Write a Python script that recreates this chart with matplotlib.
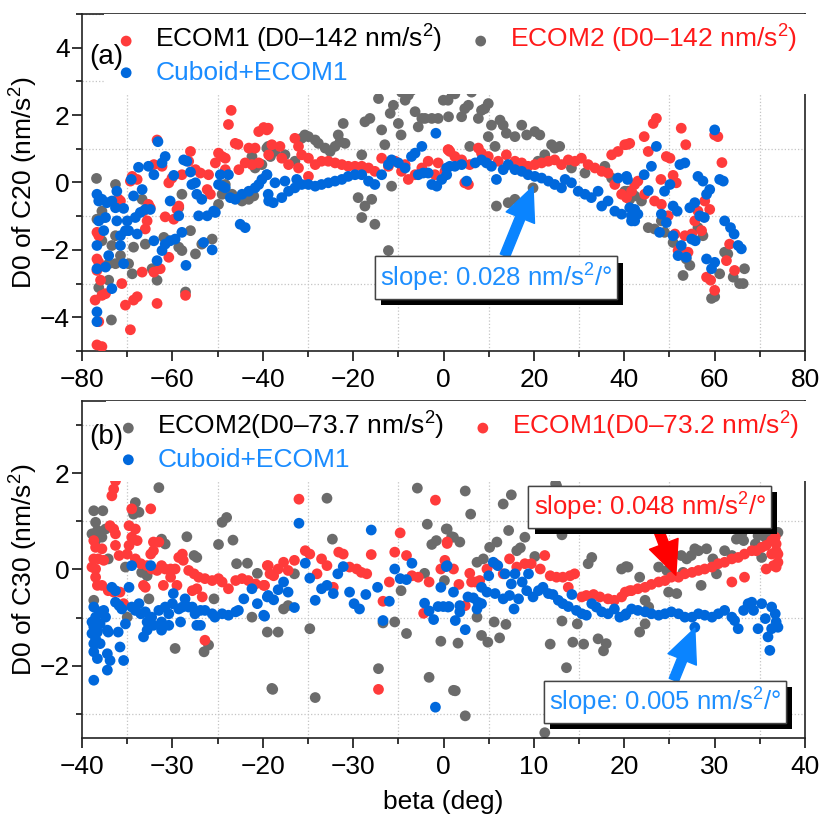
import numpy as np
import matplotlib
matplotlib.use("Agg")
import matplotlib.pyplot as plt
from matplotlib import patheffects
from matplotlib.ticker import MultipleLocator, FixedLocator

plt.rcParams['font.family'] = ['Liberation Sans', 'DejaVu Sans']
plt.rcParams['mathtext.fontset'] = 'custom'
plt.rcParams['mathtext.rm'] = 'Liberation Sans'
plt.rcParams['mathtext.it'] = 'Liberation Sans:italic'

# ---- panel (a): C20, (beta, D0) pairs ----
a_ecom2 = [  # grey
    (-76.8, 0.12), (-76.7, -1.09), (-75.2, -1.04), (-75.6, -1.73), (-73.4, -1.87), (-72.6, -1.58),
    (-74.1, -2.41), (-72.6, -2.41), (-71.5, -2.17), (-74.1, -2.90), (-69.7, -2.41), (-68.9, -2.71),
    (-68.6, -1.92), (-66.0, -1.83), (-66.7, -0.50), (-63.4, -2.90), (-64.5, -2.56), (-61.9, -1.63),
    (-60.8, -1.73), (-57.9, -2.02), (-58.6, -1.92), (-57.9, -0.35), (-58.6, -0.75), (-56.0, -1.43),
    (-54.9, -2.12), (-53.5, -1.83), (-51.2, -1.68), (-57.1, -3.25), (-49.8, -0.65), (-49.0, -0.35),
    (-48.3, -0.06), (-46.8, -0.35), (-44.6, -0.55), (-43.1, -0.50), (-42.0, -0.40), (-40.2, 0.53),
    (-39.1, 1.02), (-38.3, 0.77), (-42.4, 0.77), (-41.7, 0.43), (-73.5, -4.08), (-76.3, -3.12),
    (-75.6, -0.85), (-72.6, -0.06),
    (-38.8, 1.07), (-37.3, 0.92), (-35.1, 0.82), (-32.9, 0.63), (-31.4, 1.31), (-30.7, 1.41),
    (-29.9, 1.36), (-28.4, 1.26), (-27.7, 1.16), (-26.2, 1.02), (-25.1, 0.92), (-24.0, 1.07),
    (-23.3, 1.41), (-22.9, 1.21), (-22.2, 1.75), (-21.8, 1.16), (-18.9, -0.45), (-18.1, -1.04),
    (-17.4, -0.70), (-15.9, -0.50), (-15.2, -1.24), (-17.4, 1.80), (-16.3, 1.90), (-14.4, 2.49),
    (-13.7, 1.56), (-13.0, 1.12), (-12.2, -2.02), (-11.5, -0.11), (-11.8, 2.05), (-11.1, 2.29),
    (-10.0, 1.75), (-9.4, 1.41), (-8.5, 2.44), (-7.8, 2.59), (-7.1, 2.73), (-6.3, 2.10),
    (-5.6, 1.65), (-4.8, 1.90), (-4.1, 1.90), (-2.6, 1.90), (-1.2, 1.90), (-0.05, 2.44),
    (1.1, 1.95), (1.8, 2.68), (-18.1, 0.82), (-9.3, 2.68),
    (1.0, 2.44), (2.5, 2.63), (4.0, 1.95), (4.7, 2.19), (5.5, 2.29), (6.2, 2.68), (7.7, 1.90),
    (8.4, 2.14), (9.1, 2.19), (9.9, 2.34), (10.6, 1.70), (9.9, 1.36), (11.4, 1.07), (12.5, 1.85),
    (13.2, 1.70), (13.9, 1.46), (15.8, 1.36), (17.3, 1.70), (18.4, 1.41), (20.2, 1.51),
    (21.3, 1.41), (23.9, 1.12), (24.6, 1.02), (25.7, 1.07), (22.4, 0.82), (20.9, 0.63),
    (11.7, -0.70), (14.3, -0.60), (15.8, -0.50), (19.8, -0.16), (5.8, 1.07), (35.7, 0.48),
    (37.2, 0.13), (40.1, -0.26), (41.2, -0.50), (31.3, 0.28), (28.3, 0.43),
    (40.8, -0.26), (42.3, -0.40), (43.8, -0.55), (45.3, -1.34), (46.7, -1.38), (48.2, -1.14),
    (50.8, -1.78), (53.0, -2.76), (54.5, -2.46), (53.7, -2.27), (56.3, -1.34), (57.4, -1.58),
    (59.3, -3.44), (60.0, -3.39), (61.1, -2.71), (62.2, -2.07), (62.9, -2.12), (64.1, -2.81),
    (65.5, -3.00), (66.3, -3.00), (66.6, -2.56), (48.9, -1.48),
]
a_ecom1 = [  # red
    (-47.0, 2.14), (-47.6, 1.72), (-46.1, 1.16), (-45.5, 1.13), (-63.4, 1.26), (-40.9, 1.51),
    (-39.8, 1.63), (-39.1, 1.56), (-43.1, 1.02), (-41.7, 1.02), (-49.8, 0.87), (-49.0, 0.77),
    (-48.3, 0.72), (-50.5, 0.58), (-56.0, 0.92), (-57.9, 0.23), (-54.9, 0.38), (-53.8, 0.28),
    (-52.0, 0.23), (-68.9, 0.18), (-67.8, 0.09), (-69.3, 0.04), (-64.1, 0.53), (-62.3, 0.48),
    (-60.8, -0.01), (-60.1, 0.13), (-56.4, 0.63), (-52.3, -0.21), (-51.6, -0.35), (-48.3, 0.38),
    (-45.3, 0.38), (-43.9, 0.58), (-42.4, 0.53), (-40.9, 0.58), (-38.7, 0.82), (-71.9, -0.50),
    (-71.5, -0.55), (-65.3, -0.65), (-64.9, -0.75), (-66.4, -0.85), (-65.6, -1.14), (-66.0, -1.38),
    (-61.6, -1.02), (-59.7, -1.09), (-59.0, -0.80), (-58.6, -0.70), (-76.7, -1.48), (-76.3, -1.58),
    (-76.7, -2.27), (-76.3, -2.37), (-76.7, -2.61), (-75.9, -2.90), (-77.1, -3.49), (-75.6, -3.35),
    (-74.8, -3.30), (-71.2, -3.00), (-70.4, -3.64), (-68.6, -3.49), (-67.8, -3.39), (-66.7, -2.66),
    (-64.1, -2.66), (-62.7, -2.56), (-60.8, -2.22), (-63.4, -3.59), (-57.1, -3.35), (-69.3, -4.37),
    (-76.7, -4.82), (-75.6, -4.87), (-76.3, -4.13),
    (-38.8, 1.61), (-38.0, 1.12), (-36.2, 1.07), (-32.9, 1.31), (-32.1, 1.07), (-35.8, 0.72),
    (-34.3, 0.53), (-31.4, 0.82), (-29.9, 0.72), (-28.4, 0.53), (-27.0, 0.63), (-25.5, 0.63),
    (-24.0, 0.58), (-22.5, 0.53), (-21.1, 0.48), (-19.6, 0.48), (-18.1, 0.48), (-16.6, 0.43),
    (-15.2, 0.33), (-13.7, 0.72), (-12.2, 0.48), (-10.7, 0.63), (-9.3, 0.33), (-7.8, 0.09),
    (-6.3, 0.23), (-4.8, 0.43), (-3.4, 0.63), (-1.9, 0.23), (-1.2, 0.58), (0.3, 0.33),
    (1.1, 0.97), (1.4, 0.92), (-29.9, 0.18), (-32.1, 0.43), (-8.5, 0.53),
    (1.0, 0.97), (2.5, 0.77), (4.0, 0.67), (5.8, 0.53), (7.7, 1.02), (8.4, 0.87), (9.9, 0.77),
    (12.1, 0.63), (13.9, 0.82), (15.8, 0.63), (17.3, 0.58), (18.7, 0.48), (20.2, 0.53),
    (21.7, 0.58), (23.2, 0.63), (24.6, 0.67), (26.1, 0.53), (27.6, 0.67), (29.1, 0.63),
    (30.5, 0.72), (32.0, 0.53), (33.5, 0.43), (35.0, 0.33), (36.4, 0.28), (37.2, 0.82),
    (38.6, 0.92), (40.1, 1.12), (41.2, 1.16), (39.4, -0.35), (40.5, -0.45), (37.9, -0.06),
    (5.5, -0.06), (4.7, -0.01),
    (47.1, 1.90), (46.4, 1.75), (44.4, 1.36), (40.7, 1.13), (45.3, 0.92), (49.3, 0.77),
    (50.1, 0.72), (52.6, 1.61), (53.6, 1.12), (48.1, 0.09), (50.8, 0.21), (51.5, -0.01),
    (43.0, 0.04), (42.3, -0.06), (41.6, -0.26), (44.5, -0.35), (46.7, -0.55), (48.2, -0.65),
    (49.7, -0.99), (55.6, -1.14), (57.8, -0.55), (58.9, -0.80), (56.3, -0.85), (61.6, 0.59),
    (60.0, 1.41), (60.7, 1.36), (57.1, -1.43), (51.2, -1.53), (54.9, -1.53), (51.9, -2.02),
    (54.1, -2.07), (63.3, -1.83), (62.6, -2.32), (64.4, -2.61), (58.2, -2.81), (59.1, -2.90),
    (60.0, -3.20), (53.4, -1.58),
]
a_cuboid = [  # blue
    (-63.2, 1.21), (-61.6, 0.77), (-62.3, 0.58), (-67.5, 0.45), (-65.3, 0.48), (-64.1, 0.23),
    (-59.7, 0.21), (-57.5, 0.67), (-56.8, 0.63), (-56.0, 0.31), (-55.7, -0.06), (-54.9, -0.01),
    (-54.6, -0.35), (-53.5, -0.50), (-54.2, -0.99), (-52.3, -0.99), (-50.9, -0.85), (-50.5, -0.89),
    (-58.6, -0.99), (-60.5, -0.55), (-66.7, -0.21), (-68.6, -0.40), (-69.1, 0.09), (-72.3, -0.26),
    (-70.8, -0.77), (-76.7, -0.35), (-76.3, -0.55), (-75.6, -0.50), (-74.5, -0.60), (-73.4, -0.55),
    (-72.6, -0.75), (-76.3, -1.14), (-74.8, -1.04), (-72.3, -1.14), (-70.0, -1.14), (-69.7, -1.43),
    (-70.4, -1.43), (-68.2, -1.04), (-67.1, -0.89), (-66.0, -0.80), (-64.9, -0.80), (-67.8, -1.53),
    (-71.5, -1.58), (-71.5, -1.87), (-75.2, -1.43), (-76.7, -1.87), (-74.1, -2.17), (-74.8, -2.51),
    (-76.7, -2.56), (-73.4, -3.15), (-70.8, -2.41), (-63.4, -2.32), (-62.3, -2.02), (-61.6, -1.83),
    (-60.5, -1.73), (-59.4, -1.68), (-57.9, -1.48), (-64.1, -1.73), (-57.0, -2.46), (-53.1, -1.78),
    (-51.2, -2.00), (-49.4, 0.23), (-47.6, 0.23), (-49.8, -0.06), (-49.0, -0.11), (-48.3, -0.16),
    (-47.2, -0.45), (-46.1, -0.50), (-45.0, -1.24), (-43.9, -1.34), (-44.6, -0.35), (-43.1, -0.26),
    (-41.7, -0.16), (-40.9, -0.06), (-40.2, 0.09), (-39.1, 0.23), (-38.7, -0.55), (-76.7, -3.84),
    (-76.7, -4.13),
    (-39.1, 0.23), (-37.3, -0.01), (-35.1, 0.04), (-32.5, 0.09), (-38.8, -0.35), (-37.7, -0.60),
    (-35.8, -0.45), (-34.3, -0.26), (-32.9, -0.16), (-31.4, -0.06), (-29.9, -0.06), (-28.4, -0.11),
    (-27.0, -0.06), (-25.5, -0.01), (-24.0, 0.04), (-22.5, 0.09), (-21.1, 0.18), (-19.6, 0.23),
    (-18.1, 0.23), (-16.6, 0.04), (-15.2, -0.06), (-13.7, 0.23), (-12.2, 0.53), (-11.5, 0.67),
    (-10.0, 0.58), (-8.5, 0.43), (-7.1, 0.77), (-6.3, 0.87), (-4.8, 1.07), (-4.5, 0.28),
    (-3.4, 0.28), (-2.6, -0.06), (-1.5, -0.11), (-0.4, 0.09), (0.7, 0.23), (1.4, 0.48),
    (-1.7, 1.46), (-5.6, 0.23),
    (0.7, 0.43), (2.5, 0.48), (4.0, 0.53), (5.1, 0.04), (7.0, 0.58), (8.4, 0.67), (9.5, 0.58),
    (10.6, 0.48), (11.7, 0.09), (13.2, 0.38), (14.3, 0.53), (15.8, 0.38), (17.3, 0.33),
    (18.7, 0.23), (20.2, 0.18), (21.7, 0.13), (23.2, 0.04), (24.6, -0.06), (26.1, -0.16),
    (26.9, 0.09), (28.3, -0.01), (29.8, -0.26), (31.3, -0.35), (32.7, -0.45), (34.2, -0.26),
    (35.0, -0.70), (36.4, -0.55), (37.9, -0.85), (39.4, -0.94), (41.2, -0.75), (38.6, 0.13),
    (40.5, 0.18), (41.6, -1.14),
    (47.1, 1.07), (46.0, 0.48), (44.4, 0.23), (40.7, 0.09), (45.3, -0.24), (48.9, -0.26),
    (50.1, -0.06), (52.3, 0.53), (53.4, 0.58), (50.8, -0.70), (51.7, -0.85), (54.5, -0.75),
    (55.6, -0.60), (56.3, 0.18), (57.4, 0.04), (58.2, -0.35), (58.9, -0.21), (61.1, 0.09),
    (61.9, 0.04), (56.7, -0.99), (57.7, -1.04), (62.2, -1.14), (63.5, -1.34), (64.3, -1.53),
    (65.2, -1.87), (65.9, -1.97), (60.0, 1.56), (42.3, -0.80), (43.0, -0.94), (41.6, -0.99),
    (48.2, -0.94), (49.3, -1.19), (47.8, -1.48), (50.8, -1.58), (52.6, -1.87), (51.9, -2.17),
    (53.7, -2.22), (54.9, -1.68), (55.7, -1.73), (58.2, -2.27), (60.0, -2.37), (59.3, -2.56),
    (42.3, -1.14),
]

# ---- panel (b): C30 ----
b_ecom2 = [  # grey
    (-38.7, 1.22), (-37.7, 1.22), (-38.5, 0.98), (-38.3, 0.81), (-38.9, 0.74), (-38.5, 0.60),
    (-37.8, 0.67), (-37.4, 0.84), (-37.1, 0.22), (-31.5, 1.70), (-34.1, 1.39), (-34.3, 1.15),
    (-33.7, 1.19), (-31.2, 0.63), (-30.8, 0.53), (-28.4, 0.68), (-27.6, 0.29), (-27.3, 0.25),
    (-24.9, 0.52), (-24.5, 0.98), (-24.0, 1.08), (-23.3, 0.61), (-22.9, 0.12), (-21.7, 0.13),
    (-20.6, -0.08), (-33.4, -0.06), (-32.8, -0.13), (-35.0, -0.99), (-32.6, -0.61), (-29.7, -1.64),
    (-26.5, -1.71), (-26.0, -1.57), (-38.7, -0.64), (-25.4, -0.61), (-19.0, -2.47), (-19.5, -1.30),
    (-21.2, -0.99), (-35.2, 0.05),
    (-18.3, -1.30), (-17.7, -0.82), (-17.2, -0.75), (-16.5, -0.09), (-18.9, -2.49), (-14.8, -1.23),
    (-14.2, -2.66), (-12.9, 1.48), (-12.3, 0.63), (-7.2, -2.06), (-6.7, -1.11), (-5.4, -1.09),
    (-4.7, -0.44), (-4.1, -1.33), (-2.9, 1.69), (-2.1, -0.08), (-1.8, 0.94), (-1.3, 0.52),
    (-0.8, 0.60), (-0.3, -1.49), (0.3, 0.84), (0.9, 0.68), (-1.6, -2.24), (1.1, -2.51),
    (0.1, -0.23),
    (0.4, 0.84), (1.1, 0.67), (1.8, 0.57), (2.4, 1.63), (3.0, 1.15), (3.7, 0.15), (4.4, 0.22),
    (5.1, 0.46), (5.9, 0.57), (6.6, 1.36), (7.5, 1.55), (7.2, 0.81), (8.1, 0.39), (8.5, 0.45),
    (9.0, 0.67), (10.1, 0.27), (12.5, 1.74), (13.1, 0.72), (16.0, 0.12), (16.4, 0.25),
    (19.7, 0.01), (20.2, 0.06), (3.7, -0.99), (4.2, -1.37), (4.9, -1.51), (5.6, -1.09),
    (6.2, -1.42), (6.9, -1.14), (1.6, -1.53), (1.3, -2.52), (2.4, -3.04), (13.1, -1.07),
    (11.8, -1.55), (13.6, -2.04), (14.3, -1.51), (14.8, -1.13), (15.5, -1.55), (17.1, -1.44),
    (17.7, -1.69), (18.0, -1.54), (11.2, -3.39), (12.4, 1.78),
    (20.4, 0.05), (21.7, -0.16), (22.3, -0.64), (22.7, -0.78), (21.7, -1.30), (22.3, -1.13),
    (23.8, 0.05), (24.9, -0.47), (25.8, -0.50), (26.3, 0.29), (26.9, 0.22), (27.4, 0.29),
    (27.8, 0.43), (28.2, 0.39), (29.1, 0.43), (29.8, 0.22), (30.2, -0.09), (31.1, 0.39),
    (31.9, 0.29), (32.4, 0.63), (33.0, 0.74), (33.2, 0.60), (34.5, 0.53), (34.8, 0.70),
    (35.6, 0.67), (36.3, 0.67), (37.0, 0.77), (28.5, -0.33), (26.5, -0.06), (35.2, 0.25),
    (24.7, -0.02),
]
b_ecom1 = [  # red
    (-36.3, 1.84), (-36.5, 1.67), (-36.7, 1.53), (-36.9, 0.91), (-36.5, 0.84), (-36.3, 0.74),
    (-34.8, 0.91), (-34.1, 0.84), (-34.5, 1.26), (-32.4, 1.26), (-34.5, 0.67), (-33.9, 0.60),
    (-32.1, 0.57), (-31.5, 0.57), (-32.1, 0.39), (-32.4, 0.32), (-38.5, 0.46), (-37.8, 0.43),
    (-36.3, 0.50), (-34.8, 0.50), (-38.7, 0.22), (-38.2, 0.22), (-37.6, 0.19), (-35.9, 0.29),
    (-35.0, 0.32), (-34.1, 0.22), (-33.5, 0.12), (-32.8, 0.08), (-32.3, 0.01), (-31.7, -0.02),
    (-31.2, 0.08), (-30.8, 0.01), (-30.2, 0.01), (-29.7, 0.01), (-29.3, 0.25), (-28.9, 0.32),
    (-28.8, 0.19), (-28.2, -0.02), (-27.6, -0.09), (-27.1, -0.16), (-26.4, -0.19), (-25.6, -0.23),
    (-24.9, -0.19), (-24.5, -0.26), (-23.8, -0.40), (-23.0, -0.23), (-22.3, -0.19), (-21.6, -0.23),
    (-20.8, -0.30), (-19.9, -0.33), (-19.5, 0.08), (-19.2, -0.09), (-38.5, 0.01), (-38.5, -0.16),
    (-38.3, -0.33), (-37.8, -0.33), (-37.1, -0.44), (-36.5, -0.47), (-35.8, -0.47), (-35.4, -0.71),
    (-33.2, -0.33), (-33.0, -0.37), (-31.0, -0.33), (-30.2, -0.16), (-29.5, -0.33), (-27.8, -0.44),
    (-27.3, -0.40), (-26.7, -0.57), (-26.4, -1.47), (-38.7, 0.60), (-38.9, 0.05),
    (-16.0, 1.46), (-15.3, 0.39), (-14.8, 0.32), (-14.0, -0.09), (-13.5, 0.22), (-12.9, 0.08),
    (-12.2, -0.37), (-11.6, 0.36), (-11.1, 0.32), (-10.4, 0.05), (-9.6, 0.01), (-9.1, -0.06),
    (-8.5, -0.09), (-8.0, 0.31), (-6.7, -0.66), (-6.0, -0.26), (-5.4, 0.36), (-4.8, 0.76),
    (-4.1, 0.29), (-3.5, -0.13), (-2.8, -0.16), (-2.2, -0.91), (-1.6, -0.26), (-0.9, 1.44),
    (-0.3, 0.01), (0.15, 0.19), (0.4, 0.54), (-19.8, -0.33), (-19.4, 0.08), (-18.8, -0.13),
    (-18.3, 0.01), (-17.7, 0.15), (-17.2, -0.02), (-16.5, 0.19), (-7.2, -2.49),
    (0.4, 0.57), (1.1, 0.01), (1.7, -0.31), (2.9, -0.08), (3.5, -0.26), (4.0, -0.23),
    (4.8, 0.01), (5.7, 0.12), (6.6, -0.09), (7.3, 0.22), (8.1, 0.05), (9.0, 0.12),
    (9.7, 0.12), (10.7, 0.01), (11.2, 0.29), (11.8, -0.13), (12.5, -0.16), (13.2, -0.16),
    (14.0, -0.13), (14.5, -0.09), (13.8, -0.37), (15.3, -0.57), (15.8, -0.54), (16.6, -0.52),
    (17.3, -0.57), (18.2, -0.61), (18.9, -0.64), (19.7, -0.57), (20.6, -0.44), (2.4, -0.75),
    (3.1, -0.26),
    (20.1, -0.47), (20.8, -0.44), (21.5, -0.40), (22.3, -0.37), (23.0, -0.31), (23.8, -0.26),
    (24.5, -0.23), (25.2, -0.16), (26.0, -0.16), (26.7, -0.09), (27.5, -0.06), (28.2, -0.02),
    (28.9, 0.01), (29.7, 0.05), (30.4, 0.12), (31.1, 0.15), (31.9, 0.22), (32.6, 0.25),
    (33.3, 0.32), (34.1, 0.39), (34.6, 0.39), (35.2, 0.46), (35.7, 0.50), (36.3, 0.60),
    (36.7, 0.67), (36.8, 0.53), (37.0, 0.32), (36.5, 0.08), (35.7, 0.01), (37.0, 0.15),
    (31.9, -0.26), (33.3, -0.16), (36.3, 0.32), (36.8, 0.39), (36.8, 0.05),
]
b_cuboid = [  # blue
    (-34.5, 0.08), (-32.4, 0.08), (-36.7, -0.37), (-36.3, -0.44), (-34.8, -0.37), (-38.7, -0.78),
    (-38.5, -0.99), (-38.0, -0.88), (-37.6, -0.85), (-37.4, -0.99), (-36.3, -0.68), (-35.9, -0.75),
    (-35.6, -0.82), (-34.5, -0.78), (-34.1, -0.85), (-33.7, -0.71), (-33.5, -0.92), (-33.0, -0.88),
    (-32.8, -1.09), (-32.3, -0.99), (-32.1, -1.16), (-31.5, -0.85), (-31.2, -1.09), (-30.8, -0.78),
    (-30.4, -0.92), (-30.0, -0.71), (-29.9, -0.50), (-29.3, -0.82), (-28.9, -0.78), (-28.6, -0.61),
    (-28.2, -0.78), (-27.8, -0.78), (-27.5, -0.92), (-26.9, -0.85), (-26.4, -0.85), (-25.6, -0.92),
    (-25.3, -0.99), (-24.5, -0.92), (-23.8, -0.95), (-23.0, -0.88), (-22.7, -0.85), (-22.1, -0.61),
    (-21.2, -0.40), (-20.6, -0.71), (-19.9, -0.95), (-19.5, -0.57), (-38.9, -1.09), (-38.7, -1.19),
    (-38.3, -1.30), (-38.0, -1.13), (-38.5, -1.44), (-38.0, -1.54), (-37.2, -1.26), (-37.1, -1.30),
    (-36.0, -1.30), (-35.8, -1.61), (-35.4, -1.89), (-38.7, -1.71), (-38.3, -1.85), (-37.2, -1.75),
    (-36.9, -1.89), (-37.2, -2.09), (-38.7, -2.30), (-38.9, -1.33), (-38.7, -1.54), (-33.2, -1.40),
    (-32.8, -1.26), (-31.2, -1.26), (-30.4, -1.16), (-35.2, -1.13), (-29.1, -1.09), (-27.3, -1.16),
    (-26.9, -1.16),
    (-16.0, 0.96), (-15.3, 0.13), (-14.8, -0.18), (-14.2, -0.64), (-13.5, -0.40), (-12.9, -0.33),
    (-12.2, -0.50), (-11.7, -0.09), (-11.1, 0.06), (-10.4, -0.47), (-9.9, -0.71), (-9.3, -0.82),
    (-8.6, -0.52), (-8.0, 0.82), (-7.3, -0.37), (-6.7, -1.06), (-6.0, -0.66), (-5.4, 0.01),
    (-4.8, -0.19), (-4.1, -0.21), (-3.5, 0.13), (-2.1, -0.70), (-1.6, -0.86), (-1.1, -1.04),
    (-0.9, -2.86), (-0.3, -0.37), (0.3, 0.06), (-0.6, -0.77), (-0.03, -0.77), (0.6, -0.77),
    (-19.8, -0.97), (-19.4, -0.54), (-18.8, -0.63), (-18.3, -0.42), (-17.7, -0.26), (-17.2, -0.47),
    (-16.5, -0.79),
    (0.4, 0.08), (1.1, -0.47), (0.5, -0.78), (1.3, -1.06), (1.8, -0.75), (1.8, -0.88),
    (2.4, -1.25), (2.7, -0.57), (3.3, -0.59), (3.8, -0.68), (3.7, -0.82), (4.2, -0.71),
    (4.2, -0.37), (4.8, -0.47), (5.0, -0.13), (5.5, 0.15), (6.0, 0.08), (5.7, -0.50),
    (6.6, -0.61), (6.8, -0.09), (7.3, -0.54), (7.5, -0.30), (7.9, -0.09), (7.8, -0.82),
    (8.3, -0.61), (8.7, -0.26), (9.2, -0.44), (9.4, -0.09), (9.9, -0.57), (10.5, -0.44),
    (11.0, -0.37), (11.6, -0.50), (12.1, -0.52), (12.7, -0.64), (13.2, -0.71), (13.8, -0.77),
    (14.2, -0.52), (14.7, -0.85), (15.3, -0.92), (15.8, -0.95), (16.4, -0.71), (16.9, -0.78),
    (17.5, -0.88), (18.2, -0.92), (18.9, -0.82), (19.5, -0.99), (20.2, -0.92), (20.8, -0.82),
    (20.1, -0.95), (21.5, -0.85), (22.3, -0.88), (23.0, -0.92), (23.8, -0.95), (24.5, -0.92),
    (25.2, -0.88), (26.0, -0.92), (26.7, -0.99), (27.5, -0.99), (27.8, -1.20), (28.2, -0.92),
    (28.9, -0.95), (29.7, -0.99), (30.4, -0.92), (31.1, -0.85), (31.9, -0.99), (32.6, -1.23),
    (33.2, -0.85), (33.7, -0.71), (34.3, -0.85), (34.8, -1.23), (35.2, -0.71), (35.6, -1.02),
    (35.9, -1.40), (36.1, -1.68), (36.3, -0.78), (36.7, -0.92), (36.8, -1.09), (37.0, -1.20),
    (36.3, -1.23), (32.2, -1.06), (34.1, -0.68),
]

b_xticks = [-40, -30, -20, -10, 0, 10, 20, 30, 40]
b_xticklabels = ['\u221240', '\u221230', '\u221220', '\u221230', '0', '10', '20', '30', '40']

RED = '#ff3b3b'
GREY = '#6b6b6b'
BLUE = '#0068dc'
S = 60
FS = 19


def style(ax):
    for sp in ax.spines.values():
        sp.set_linewidth(1.2)
        sp.set_color('#222222')
    ax.tick_params(which='both', direction='out', labelsize=19, top=False, right=False, width=1.1)
    ax.tick_params(which='major', length=7)
    ax.tick_params(axis='x', which='major', pad=5)
    ax.tick_params(axis='y', which='major', pad=2)
    ax.tick_params(which='minor', length=4)
    ax.grid(which='minor', ls=':', color='#c4c4c4', lw=0.9)
    ax.grid(which='major', visible=False)
    ax.set_axisbelow(True)
    ax.yaxis.set_label_coords(-0.058, 0.5)


def pts(lst):
    arr = np.array(lst)
    return arr[:, 0], arr[:, 1]


def slope_box(ax, txt, xy, xytext, tcol, acol):
    ann = ax.annotate(txt, xy=xy, xytext=xytext, ha='center', va='center', fontsize=18.5, color=tcol,
                      bbox=dict(boxstyle='square,pad=0.2', fc='white', ec='#444444', lw=1.0),
                      arrowprops=dict(arrowstyle='simple,head_length=1.1,head_width=1.0,tail_width=0.32',
                                      color=acol, mutation_scale=22, shrinkA=0, shrinkB=0),
                      zorder=7)
    ann.get_bbox_patch().set_path_effects([
        patheffects.withSimplePatchShadow(offset=(4.5, -4.5), shadow_rgbFace='black', alpha=1.0),
        patheffects.Normal()])
    return ann


def make_legend(ax, handles, labels, x0):
    leg = ax.legend(handles=handles, labels=labels,
                    ncol=2, loc='upper left', bbox_to_anchor=(x0, 1.0), borderaxespad=0,
                    frameon=True, fancybox=False, facecolor='white', edgecolor='none', framealpha=1,
                    fontsize=FS, handletextpad=0.6, columnspacing=0.95, handlelength=1.0,
                    labelspacing=0.2, borderpad=0.35, scatterpoints=1)
    for t, c in zip(leg.get_texts(), ['black', '#1a8cff', '#ff1a1a']):
        t.set_color(c)
    return leg


fig = plt.figure(figsize=(8.22, 8.21), dpi=100)
ax1 = fig.add_axes([0.0998, 0.5725, 0.8796, 0.4105])
ax2 = fig.add_axes([0.0998, 0.1011, 0.8796, 0.4105])

# panel (a)
x, y = pts(a_ecom2)
h_a2 = ax1.scatter(x, y, s=S, color=GREY, edgecolors='none', zorder=2)
x, y = pts(a_ecom1)
h_a1 = ax1.scatter(x, y, s=S, color=RED, edgecolors='none', zorder=3)
x, y = pts(a_cuboid)
h_ac = ax1.scatter(x, y, s=S, color=BLUE, edgecolors='none', zorder=4)

ax1.set_xlim(-80, 80)
ax1.set_ylim(-5, 5)
ax1.xaxis.set_major_locator(MultipleLocator(20))
ax1.xaxis.set_minor_locator(MultipleLocator(10))
ax1.yaxis.set_major_locator(MultipleLocator(2))
ax1.yaxis.set_minor_locator(MultipleLocator(1))
ax1.set_xticklabels([f'{int(v)}'.replace('-', '\u2212') for v in ax1.get_xticks()])
ax1.set_yticklabels([f'{int(v)}'.replace('-', '\u2212') for v in ax1.get_yticks()])
ax1.set_ylabel('D0 of C20 (nm/s$^2$)', fontsize=FS)
style(ax1)

make_legend(ax1, [h_a1, h_ac, h_a2],
            ['ECOM1 (D0\u2013142 nm/s$^2$)', 'Cuboid+ECOM1', 'ECOM2 (D0\u2013142 nm/s$^2$)'], 0.03)
ax1.text(0.01, 0.872, '(a)', transform=ax1.transAxes, fontsize=20, va='center', zorder=8)

slope_box(ax1, 'slope: 0.028 nm/s$^2$/\u00b0', (19.8, -0.12), (11.6, -2.82), '#1e8fff', '#0a84ff')

# panel (b)
x, y = pts(b_ecom2)
h_b2 = ax2.scatter(x, y, s=S, color=GREY, edgecolors='none', zorder=2)
x, y = pts(b_ecom1)
h_b1 = ax2.scatter(x, y, s=S, color=RED, edgecolors='none', zorder=3)
x, y = pts(b_cuboid)
h_bc = ax2.scatter(x, y, s=S, color=BLUE, edgecolors='none', zorder=4)

ax2.set_xlim(-40, 40)
ax2.set_ylim(-3.5, 3.5)
ax2.xaxis.set_major_locator(FixedLocator(b_xticks))
ax2.xaxis.set_minor_locator(MultipleLocator(5))
ax2.set_xticklabels(b_xticklabels)
ax2.yaxis.set_major_locator(MultipleLocator(2))
ax2.yaxis.set_minor_locator(MultipleLocator(1))
ax2.set_yticklabels([f'{int(v)}'.replace('-', '\u2212') for v in ax2.get_yticks()])
ax2.set_ylabel('D0 of C30 (nm/s$^2$)', fontsize=FS)
ax2.set_xlabel('beta (deg)', fontsize=FS, labelpad=8)
style(ax2)

make_legend(ax2, [h_b2, h_bc, h_b1],
            ['ECOM2(D0\u201373.7 nm/s$^2$)', 'Cuboid+ECOM1', 'ECOM1(D0\u201373.2 nm/s$^2$)'], 0.033)
ax2.text(0.01, 0.893, '(b)', transform=ax2.transAxes, fontsize=20, va='center', zorder=8)

slope_box(ax2, 'slope: 0.048 nm/s$^2$/\u00b0', (25.7, -0.12), (22.8, 1.30), '#ff1a1a', '#ff0000')
slope_box(ax2, 'slope: 0.005 nm/s$^2$/\u00b0', (27.8, -1.22), (24.5, -2.75), '#1e8fff', '#0a84ff')

fig.savefig('out.png', dpi=100)
